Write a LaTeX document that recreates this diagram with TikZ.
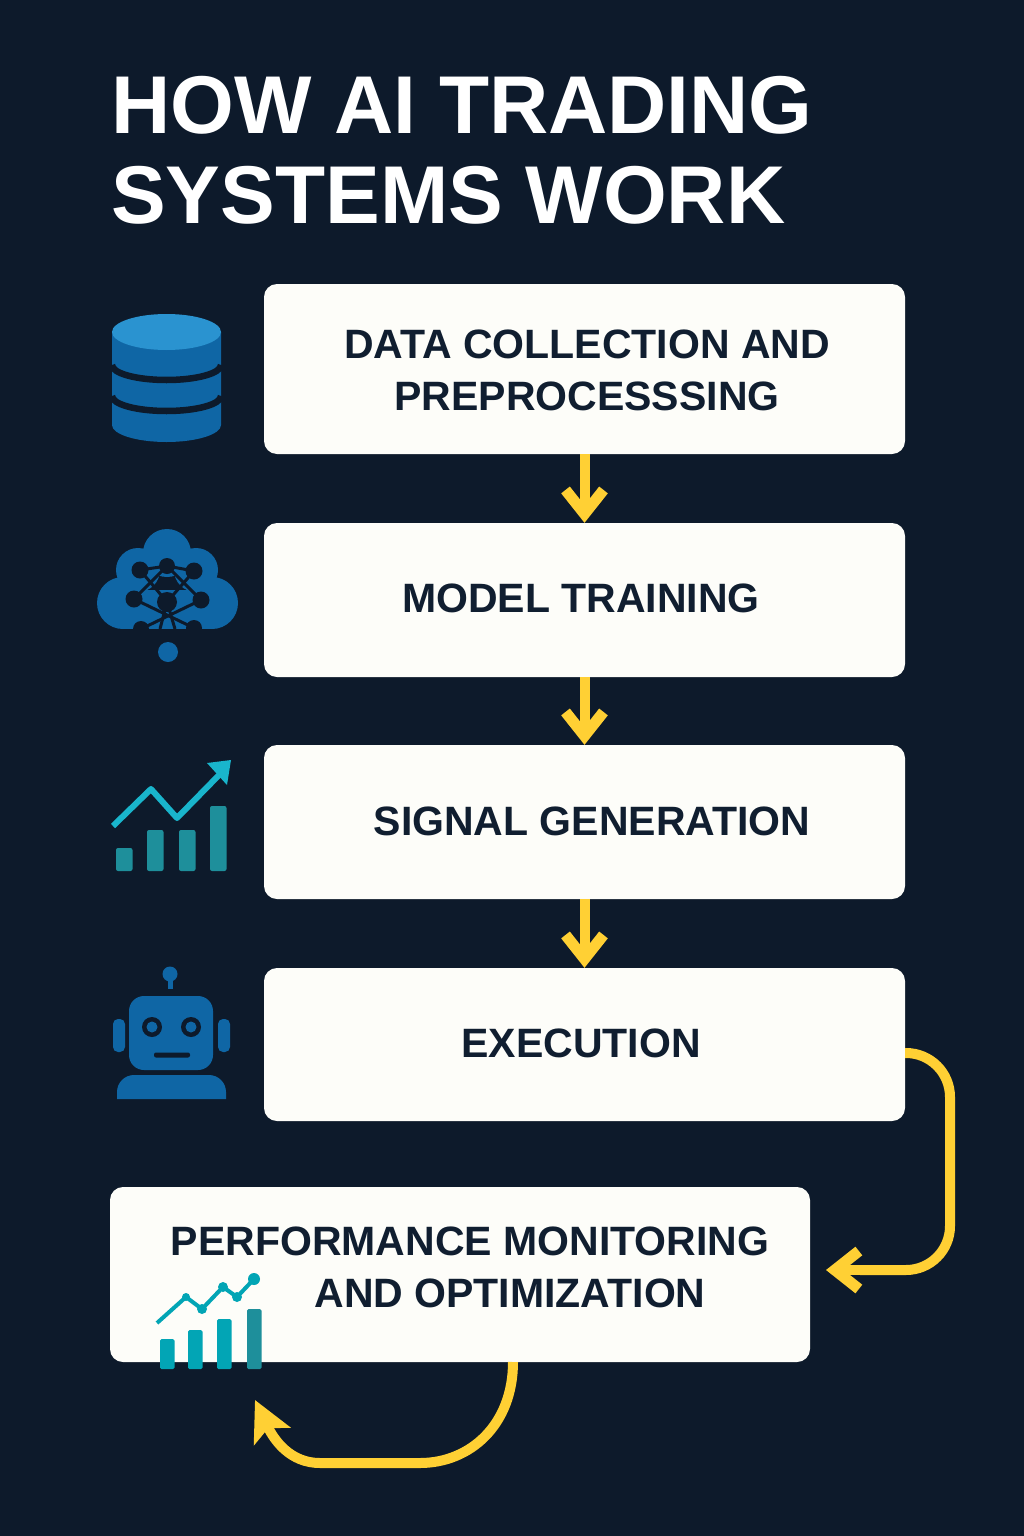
\documentclass[tikz,border=0pt]{standalone}
\usepackage{fontspec}
\setmainfont{Liberation Sans}
\usetikzlibrary{arrows.meta,calc}
\definecolor{bgnavy}{HTML}{0D1A2B}
\definecolor{boxwhite}{HTML}{FDFDF9}
\definecolor{inkdark}{HTML}{101E30}
\definecolor{flowyellow}{HTML}{FFD034}
\definecolor{iconblue}{HTML}{0F66A5}
\definecolor{icontop}{HTML}{2A93D0}
\definecolor{barteal}{HTML}{1E8F9B}
\definecolor{linecyan}{HTML}{19B5CC}
\definecolor{barcyan}{HTML}{02A5B5}
\tikzset{
  stepbox/.style={fill=boxwhite, rounded corners=13pt, inner sep=0pt, minimum width=641pt},
  steplabel/.style={text=inkdark, font=\fontsize{41}{52}\selectfont\bfseries, align=center, inner sep=0pt},
  flow/.style={draw=flowyellow, line width=10pt, -{Straight Barb[length=24pt,width=38pt,line width=11pt]}},
  loopflow/.style={draw=flowyellow, line width=10pt, rounded corners=44pt},
}
\begin{document}
\begin{tikzpicture}[x=1pt,y=-1pt]
  \fill[bgnavy] (0,0) rectangle (1024,1536);
  \node[anchor=west, text=white, align=left, inner sep=0pt, font=\fontsize{82}{90}\selectfont\bfseries] (title) at (111,150) {HOW AI TRADING\\SYSTEMS WORK};

  % boxes
  \node[stepbox, minimum height=170pt] (collect) at (584.5,369) {};
  \node[stepbox, minimum height=154pt] (train) at (584.5,600) {};
  \node[stepbox, minimum height=154pt] (signal) at (584.5,822) {};
  \node[stepbox, minimum height=153pt] (exec) at (584.5,1044.5) {};
  \node[stepbox, minimum height=175pt, minimum width=700pt] (monitor) at (460,1274.5) {};
  \node[steplabel] (collecttext) at (587,370) {DATA COLLECTION AND\\PREPROCESSSING};
  \node[steplabel] (traintext) at (581,598) {MODEL TRAINING};
  \node[steplabel] (signaltext) at (592,821) {SIGNAL GENERATION};
  \node[steplabel] (exectext) at (581,1043) {EXECUTION};
  \node[steplabel] (monitortext) at (470,1267) {PERFORMANCE MONITORING\\\hspace*{80pt}AND OPTIMIZATION};

  % arrows
  \draw[flow] (collect.south) -- (train.north);
  \draw[flow] (train.south) -- (signal.north);
  \draw[flow] (signal.south) -- (exec.north);
  \coordinate (execout) at ($(exec.east)+(0,8.5)$);
  \coordinate (monitorin) at (826,1270);
  \draw[loopflow] (execout) -- (950,1053) -- (950,1270) -- (860,1270);
  \draw[flow] (870,1270) -- (monitorin);
  \coordinate (monitorout) at (513,1362);
  \coordinate (monitorback) at (255,1400);
  \draw[draw=flowyellow, line width=10pt, -{Stealth[length=40pt,width=40pt,inset=9pt]}] (monitorout) .. controls (513,1425) and (470,1463) .. (420,1463) -- (320,1463) .. controls (290,1463) and (274,1440) .. (monitorback);

  % database
  \fill[iconblue] (112,332) -- (112,425) arc[start angle=180,end angle=0,x radius=54.5,y radius=17] -- (221,332) -- cycle;
  \foreach \y in {362,393} {
    \draw[bgnavy, line width=6.5pt] (112,\y+3) arc[start angle=180,end angle=0,x radius=54.5,y radius=15];
  }
  \fill[icontop] (166.5,332) ellipse[x radius=54.5,y radius=18];

  % cloud
  \foreach \x/\y/\r in {167/553/24,138/570/22,196/570/22,123/603/26,212/603/26} {
    \fill[iconblue] (\x,\y) circle[radius=\r];
  }
  \fill[iconblue] (123,590) rectangle (212,629);
  \fill[iconblue] (168,652) circle[radius=10];
  \coordinate (na) at (140,570);
  \coordinate (nb) at (167,566);
  \coordinate (nc) at (194,571);
  \coordinate (nd) at (134,599);
  \coordinate (ne) at (167,602);
  \coordinate (nf) at (201,600);
  \coordinate (ng) at (141,629);
  \coordinate (nh) at (194,628);
  \coordinate (ni) at (160,629);
  \coordinate (nj) at (175,629);
  \foreach \a/\b in {na/nb,nb/nc,na/ne,nc/ne,nb/nd,nb/nf,nd/nh,nf/ng,ne/ni,ne/nj} {
    \draw[bgnavy, line width=3pt] (\a) -- (\b);
  }
  \foreach \a/\r in {na/8.5,nb/8,nc/8.5,nd/8.5,ne/10,nf/8.5,ng/8,nh/8} {
    \fill[bgnavy] (\a) circle[radius=\r];
  }

  % signal chart
  \foreach \x/\y in {116/848,147/830,179/830,210/806} {
    \fill[barteal, rounded corners=2pt] (\x,\y) rectangle ++(16.5,871-\y);
  }
  \draw[linecyan, line width=6pt, line join=round] (113,826) -- (151,789) -- (177,818) -- (222,772);
  \fill[linecyan] (231,760) -- (207,763) -- (227,785) -- cycle;

  % robot
  \fill[iconblue] (170,974) circle[radius=7.5];
  \fill[iconblue] (167.5,978) rectangle (172.5,989);
  \fill[iconblue, rounded corners=15pt] (129,996) rectangle (213,1070);
  \fill[iconblue, rounded corners=5pt] (113,1019) rectangle (125,1052);
  \fill[iconblue, rounded corners=5pt] (218,1019) rectangle (230,1052);
  \foreach \x in {152,191} {
    \fill[bgnavy] (\x,1027) circle[radius=10];
    \fill[iconblue] (\x,1027) circle[radius=5.5];
  }
  \fill[bgnavy, rounded corners=2pt] (154,1052.5) rectangle (190,1057.5);
  \fill[iconblue] (117,1099) -- (117,1092) arc[start angle=180,end angle=270,radius=17] -- (209,1075) arc[start angle=270,end angle=360,radius=17] -- (226,1099) -- cycle;

  % monitor chart
  \foreach \x/\y/\c in {160/1339/barcyan,188/1330/barcyan,217/1319/barcyan,247/1309/barteal} {
    \fill[\c, rounded corners=1.5pt] (\x,\y) rectangle ++(14.5,1369-\y);
  }
  \draw[barcyan, line width=4pt, line join=round] (157,1323) -- (186,1297) -- (202,1309) -- (223,1287) -- (237,1297) -- (254,1279);
  \foreach \x/\y/\r in {186/1297/4,202/1309/5,223/1287/5,237/1297/5,254/1279/6} {
    \fill[barcyan] (\x,\y) circle[radius=\r];
  }
\end{tikzpicture}
\end{document}
